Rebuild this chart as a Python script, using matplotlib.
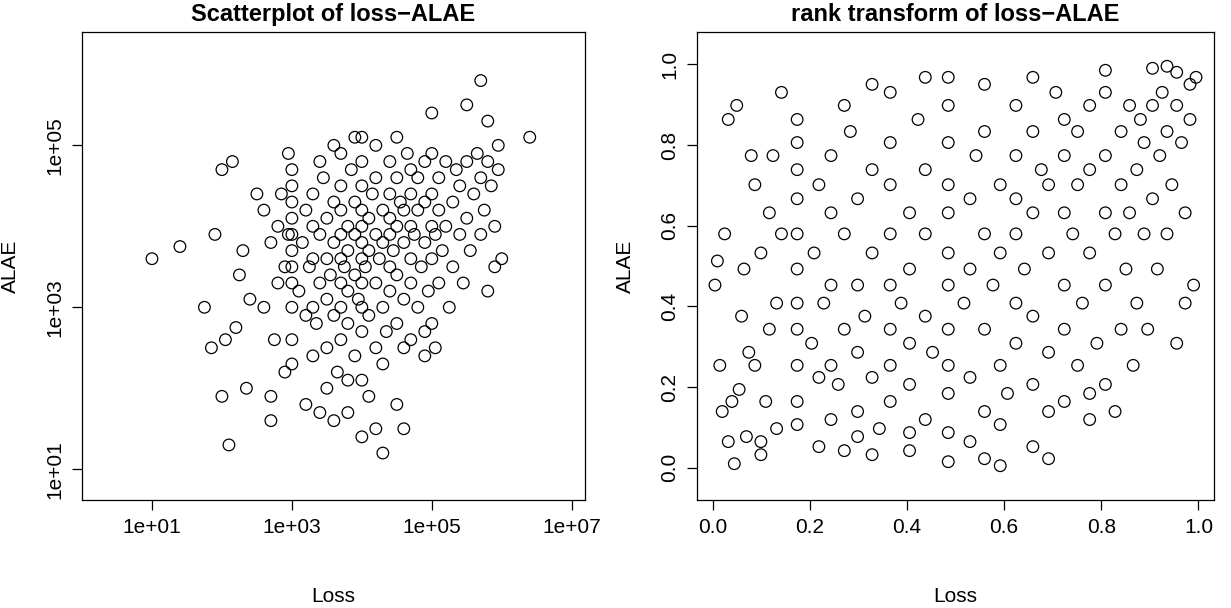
import numpy as np
import pandas as pd
import matplotlib
matplotlib.use("Agg")
import matplotlib.pyplot as plt
from matplotlib.ticker import FixedLocator

# log10 values read approximately off the scatterplot
loss_log = [1.0, 1.4, 1.75, 1.85, 1.9, 2.0, 2.0, 2.05, 2.1, 2.15, 2.2, 2.25, 2.3, 2.35, 2.4, 2.5, 2.6, 2.7, 2.75, 2.8, 2.9, 2.95,
            5.0, 5.5, 5.7, 5.8, 5.95, 6.4, 6.0, 5.9, 4.9, 5.05, 4.6, 4.2, 4.0, 3.6, 3.4, 3.2, 4.3, 4.5, 3.8, 2.7,
            3.0, 3.0, 3.0, 3.0, 3.0, 3.0, 3.0, 3.0, 3.0, 3.0, 3.0, 3.1, 3.15, 3.2, 3.2, 3.25, 3.3, 3.3, 3.3, 3.3, 3.3,
            3.35, 3.4, 3.4, 3.45, 3.5, 3.5, 3.5, 3.5, 3.55, 3.6, 3.6, 3.6, 3.65, 3.7, 3.7, 3.7, 3.7, 3.7, 3.7, 3.7, 3.7,
            3.75, 3.8, 3.8, 3.8, 3.8, 3.85, 3.9, 3.9, 3.9, 3.9, 3.95, 4.0, 4.0, 4.0, 4.0, 4.0, 4.0, 4.0, 4.0, 4.0, 4.0,
            4.0, 4.05, 4.1, 4.1, 4.1, 4.15, 4.2, 4.2, 4.2, 4.2, 4.25, 4.3, 4.3, 4.3, 4.35, 4.4, 4.4, 4.4, 4.4, 4.4, 4.4,
            4.45, 4.5, 4.5, 4.5, 4.5, 4.55, 4.6, 4.6, 4.6, 4.65, 4.7, 4.7, 4.7, 4.7, 4.7, 4.7, 4.75, 4.8, 4.8, 4.8, 4.85,
            4.9, 4.9, 4.9, 4.95, 5.0, 5.0, 5.0, 5.0, 5.0, 5.05, 5.1, 5.1, 5.1, 5.15, 5.2, 5.2, 5.25, 5.3, 5.3, 5.35, 5.4,
            5.4, 5.45, 5.5, 5.5, 5.55, 5.6, 5.65, 5.7, 5.7, 5.75, 5.8, 5.8, 5.85, 5.9, 5.95, 2.9, 2.8, 2.85, 2.7, 2.6,
            2.95, 3.6, 3.9, 4.2, 4.5, 3.4, 4.3, 4.6, 4.9, 3.8, 3.5, 4.1]
alae_log = [3.6, 3.75, 3.0, 2.5, 3.9, 1.9, 4.7, 2.6, 1.3, 4.8, 2.75, 3.4, 3.7, 2.0, 3.1, 4.4, 3.0, 1.9, 2.6, 3.3, 2.2, 3.9,
            5.4, 5.5, 5.8, 5.3, 5.0, 5.1, 3.6, 3.5, 2.4, 2.5, 1.5, 1.5, 1.4, 1.6, 1.7, 1.8, 1.2, 1.8, 1.7, 1.6,
            2.3, 2.6, 3.0, 3.3, 3.5, 3.7, 3.9, 4.1, 4.3, 4.5, 4.7, 3.2, 3.8, 2.9, 4.2, 3.5, 2.4, 3.0, 3.6, 4.0, 4.4,
            2.8, 3.3, 3.9, 4.6, 2.5, 3.1, 3.6, 4.1, 3.4, 2.9, 3.8, 4.3, 2.2, 2.6, 3.0, 3.3, 3.6, 3.9, 4.2, 4.5, 4.9,
            3.5, 2.8, 3.2, 3.7, 4.0, 4.7, 2.4, 3.4, 3.9, 4.3, 3.1, 2.1, 2.7, 3.0, 3.3, 3.6, 3.8, 4.0, 4.2, 4.5, 4.8,
            5.1, 3.5, 2.9, 3.7, 4.1, 4.4, 2.5, 3.3, 3.9, 4.6, 3.6, 3.0, 3.8, 4.2, 2.7, 3.2, 3.5, 3.9, 4.1, 4.4, 4.8,
            3.7, 2.8, 3.4, 4.0, 4.6, 4.3, 3.1, 3.8, 4.2, 4.9, 2.6, 3.3, 3.6, 4.0, 4.4, 4.7, 3.9, 3.0, 4.2, 4.6, 3.5,
            3.8, 4.3, 4.8, 3.2, 2.8, 3.6, 4.0, 4.4, 4.9, 3.9, 3.3, 4.2, 4.6, 3.7, 4.0, 4.8, 3.0, 3.5, 4.3, 4.7, 3.9,
            4.5, 3.3, 4.1, 4.8, 3.7, 4.4, 4.9, 3.9, 4.6, 4.2, 4.8, 3.2, 4.5, 4.0, 4.7, 3.5, 4.0, 4.4, 3.8, 4.2,
            4.9, 5.0, 5.1, 5.0, 5.1, 4.8, 2.3, 2.5, 2.7, 2.1, 2.0, 1.9]

loss = 10.0 ** np.array(loss_log)
alae = 10.0 ** np.array(alae_log)
df = pd.DataFrame({"loss": loss, "alae": alae})
n = len(df)
df["u"] = df["loss"].rank() / (n + 1)
df["v"] = df["alae"].rank() / (n + 1)

plt.rcParams["font.family"] = "Liberation Sans"
fig = plt.figure(figsize=(12.31, 6.08), dpi=100)
ax1 = fig.add_axes([82 / 1231, 108 / 608, 503 / 1231, 468 / 608])
ax2 = fig.add_axes([697 / 1231, 108 / 608, 517 / 1231, 468 / 608])

mk = dict(s=70, facecolors="none", edgecolors="black", linewidths=0.9)

ax1.scatter(df["loss"], df["alae"], **mk)
ax1.set_xscale("log")
ax1.set_yscale("log")
ax1.set_xlim(10 ** 0.0, 10 ** 7.19)
ax1.set_ylim(10 ** 0.62, 10 ** 6.4)
ax1.xaxis.set_major_locator(FixedLocator([1e1, 1e3, 1e5, 1e7]))
ax1.yaxis.set_major_locator(FixedLocator([1e1, 1e3, 1e5]))
ax1.xaxis.set_minor_locator(FixedLocator([]))
ax1.yaxis.set_minor_locator(FixedLocator([]))
ax1.set_xticklabels(["1e+01", "1e+03", "1e+05", "1e+07"])
ax1.set_yticklabels(["1e+01", "1e+03", "1e+05"], rotation=90, va="center")
ax1.set_title("Scatterplot of loss\u2212ALAE", fontsize=17, fontweight="bold", pad=8)

ax2.scatter(df["u"], df["v"], **mk)
ax2.set_xlim(-0.032, 1.032)
ax2.set_ylim(-0.08, 1.08)
ticks = [0.0, 0.2, 0.4, 0.6, 0.8, 1.0]
ax2.set_xticks(ticks)
ax2.set_yticks(ticks)
ax2.set_xticklabels([f"{t:.1f}" for t in ticks])
ax2.set_yticklabels([f"{t:.1f}" for t in ticks], rotation=90, va="center")
ax2.set_title("rank transform of loss\u2212ALAE", fontsize=17, fontweight="bold", pad=8)

for ax in (ax1, ax2):
    ax.tick_params(labelsize=15, length=7, width=0.9, pad=6)
    ax.set_xlabel("Loss", fontsize=15, labelpad=36)
    ax.set_ylabel("ALAE", fontsize=15, labelpad=18)
    for s in ax.spines.values():
        s.set_linewidth(0.9)

fig.savefig("out.png", dpi=100)
